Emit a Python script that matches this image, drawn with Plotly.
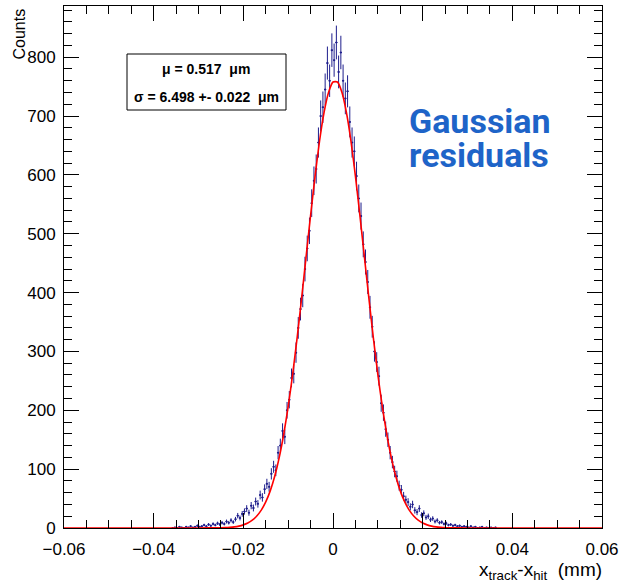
import numpy as np
import plotly.graph_objects as go

# ---------------- data ----------------
bin_width = 0.0005
first_bin_center = -0.03575
counts = [
    0, 1, 0, 2, 1, 0, 2, 1, 3, 1, 2, 4, 2, 3, 5, 3, 6, 4, 7, 5,
    8, 6, 9, 7, 11, 9, 13, 10, 15, 21, 17, 24, 28, 33, 26, 38, 34, 45, 41, 56,
    52, 66, 75, 70, 92, 104, 98, 128, 140, 165, 155, 200, 218, 255, 262, 298, 340, 372, 395, 440,
    475, 505, 552, 590, 610, 655, 700, 715, 745, 790, 760, 812, 795, 825, 775, 808, 760, 730, 742, 690,
    655, 640, 598, 560, 530, 482, 452, 418, 375, 342, 300, 282, 258, 212, 196, 168, 150, 128, 112, 96,
    88, 72, 65, 54, 48, 44, 36, 40, 30, 27, 33, 22, 25, 18, 20, 14, 16, 11, 13, 9,
    10, 7, 8, 5, 6, 4, 5, 3, 4, 2, 3, 2, 1, 3, 1, 2, 0, 1, 2, 0,
    1, 0, 1, 0, 1,
]
bin_centers = first_bin_center + bin_width * np.arange(len(counts))
errors = np.sqrt(np.array(counts, dtype=float))

# fitted Gaussian curve
fit_x = [-0.06, -0.030, -0.025, -0.024, -0.023, -0.022, -0.021, -0.020, -0.019, -0.018,
         -0.017, -0.016, -0.015, -0.014, -0.013, -0.012, -0.011, -0.010, -0.009, -0.008,
         -0.007, -0.006, -0.005, -0.004, -0.003, -0.002, -0.001, 0.000, 0.001, 0.002,
         0.003, 0.004, 0.005, 0.006, 0.007, 0.008, 0.009, 0.010, 0.011, 0.012,
         0.013, 0.014, 0.015, 0.016, 0.017, 0.018, 0.019, 0.020, 0.021, 0.022,
         0.023, 0.024, 0.025, 0.030, 0.06]
fit_y = [0.0, 0.01, 0.35, 0.6, 1.1, 1.9, 3.2, 5.3, 8.4, 13.2,
         20.3, 30.3, 44.3, 63.1, 87.9, 119.6, 158.9, 206.1, 261.2, 323.2,
         390.6, 461.0, 531.0, 598.0, 657.6, 705.8, 740.0, 757.8, 757.8, 740.0,
         705.8, 657.6, 598.0, 531.0, 461.0, 390.6, 323.2, 261.2, 206.1, 158.9,
         119.6, 87.9, 63.1, 44.3, 30.3, 20.3, 13.2, 8.4, 5.3, 3.2,
         1.9, 1.1, 0.6, 0.03, 0.0]

x_range = [-0.06, 0.06]
y_range = [0, 887]
stat_lines = ["\u03bc = 0.517  \u03bcm", "\u03c3 = 6.498 +- 0.022  \u03bcm"]
y_title = "Counts"
x_title = "x<sub>track</sub>-x<sub>hit</sub>  (mm)"
label_lines = ["Gaussian", "residuals"]

# ---------------- figure ----------------
W, H = 619, 587
L, R, T, B = 64, 17, 6, 59
pw, ph = W - L - R, H - T - B

def px(xp):
    return (xp - L) / pw

def py(yp):
    return (H - B - yp) / ph

hist_color = "rgb(30,30,140)"
fig = go.Figure()
fig.add_trace(go.Scatter(
    x=bin_centers, y=counts, mode="markers",
    marker=dict(size=2, color=hist_color),
    error_y=dict(type="data", array=errors, color=hist_color, thickness=1, width=0),
    error_x=dict(type="constant", value=bin_width / 2, color=hist_color, thickness=1, width=0),
    showlegend=False, hoverinfo="x+y",
))
fig.add_trace(go.Scatter(
    x=fit_x, y=fit_y, mode="lines", line=dict(color="red", width=1.6, shape="spline", smoothing=0.6),
    showlegend=False,
))

axis_font = dict(family="Liberation Sans, Arial, sans-serif", size=17, color="black")
fig.update_xaxes(
    range=x_range, dtick=0.02, tick0=0, showgrid=False, zeroline=False, automargin=False,
    showline=True, linecolor="black", linewidth=1, mirror="allticks",
    ticks="inside", ticklen=15, tickcolor="black", tickwidth=1,
    minor=dict(ticks="inside", dtick=0.005, ticklen=8, tickcolor="black", showgrid=False),
    tickfont=axis_font, ticklabelstandoff=6,
)
fig.update_yaxes(
    range=y_range, dtick=100, tick0=0, showgrid=False, zeroline=False, automargin=False,
    showline=True, linecolor="black", linewidth=1, mirror="allticks",
    ticks="inside", ticklen=15, tickcolor="black", tickwidth=1,
    minor=dict(ticks="inside", dtick=20, ticklen=8, tickcolor="black", showgrid=False),
    tickfont=axis_font, ticklabelstandoff=4,
)

annotations = [
    dict(text=y_title, xref="paper", yref="paper", x=px(19), y=py(7), textangle=-90,
         xanchor="center", yanchor="top", showarrow=False,
         font=dict(family="Liberation Sans, Arial, sans-serif", size=16, color="black")),
    dict(text=x_title, xref="paper", yref="paper", x=px(604), y=py(571),
         xanchor="right", yanchor="middle", showarrow=False,
         font=dict(family="Liberation Sans, Arial, sans-serif", size=19, color="black")),
    dict(text="<b>" + stat_lines[0] + "</b>", xref="paper", yref="paper", x=px(206), y=py(69),
         xanchor="center", yanchor="middle", showarrow=False,
         font=dict(family="Liberation Sans, Arial, sans-serif", size=14, color="black")),
    dict(text="<b>" + stat_lines[1] + "</b>", xref="paper", yref="paper", x=px(206), y=py(97),
         xanchor="center", yanchor="middle", showarrow=False,
         font=dict(family="Liberation Sans, Arial, sans-serif", size=14, color="black")),
    dict(text="<b>" + label_lines[0] + "</b>", xref="paper", yref="paper", x=px(407), y=py(121),
         xanchor="left", yanchor="middle", showarrow=False,
         font=dict(family="Roboto, sans-serif", size=34, color="#1e64c8")),
    dict(text="<b>" + label_lines[1] + "</b>", xref="paper", yref="paper", x=px(407), y=py(155),
         xanchor="left", yanchor="middle", showarrow=False,
         font=dict(family="Roboto, sans-serif", size=34, color="#1e64c8")),
]
shapes = [
    dict(type="rect", xref="paper", yref="paper", x0=px(127), x1=px(286), y0=py(110), y1=py(54),
         line=dict(color="black", width=1), fillcolor="white", layer="above"),
]
fig.update_layout(
    width=W, height=H, margin=dict(l=L, r=R, t=T, b=B, autoexpand=False),
    paper_bgcolor="white", plot_bgcolor="white",
    annotations=annotations, shapes=shapes,
)
fig.write_html(
    "out.html",
    config={"displayModeBar": False},
    post_script="document.body.style.margin='0';document.body.style.overflow='hidden';",
)
